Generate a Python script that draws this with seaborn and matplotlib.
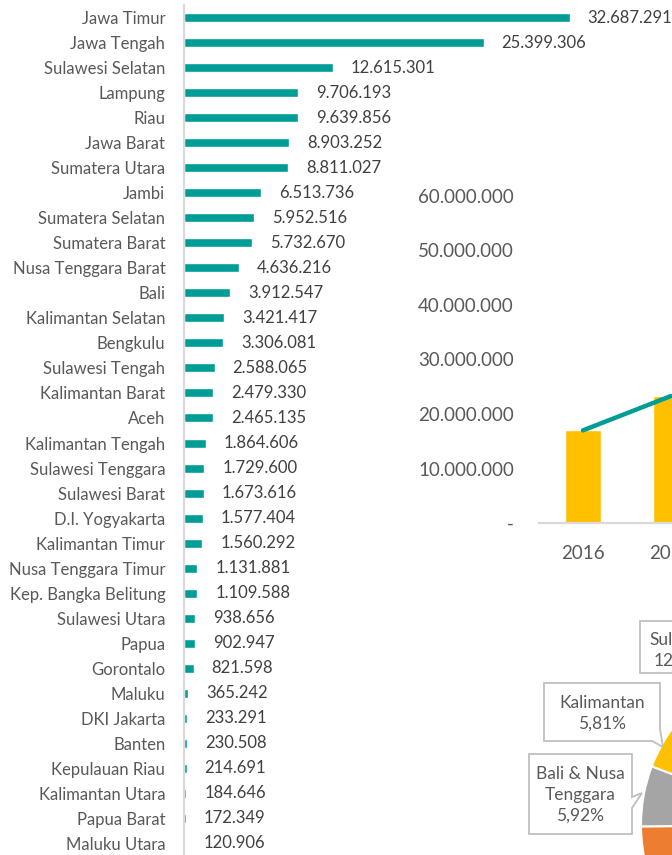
import numpy as np
import pandas as pd
import matplotlib
matplotlib.use("Agg")
import matplotlib.pyplot as plt
from matplotlib.patches import Polygon
from matplotlib.transforms import Affine2D
from matplotlib.ticker import FixedLocator, FuncFormatter
import seaborn as sns

# ---- data -------------------------------------------------------------
provinces = [
    "Jawa Timur", "Jawa Tengah", "Sulawesi Selatan", "Lampung", "Riau",
    "Jawa Barat", "Sumatera Utara", "Jambi", "Sumatera Selatan",
    "Sumatera Barat", "Nusa Tenggara Barat", "Bali", "Kalimantan Selatan",
    "Bengkulu", "Sulawesi Tengah", "Kalimantan Barat", "Aceh",
    "Kalimantan Tengah", "Sulawesi Tenggara", "Sulawesi Barat",
    "D.I. Yogyakarta", "Kalimantan Timur", "Nusa Tenggara Timur",
    "Kep. Bangka Belitung", "Sulawesi Utara", "Papua", "Gorontalo",
    "Maluku", "DKI Jakarta", "Banten", "Kepulauan Riau",
    "Kalimantan Utara", "Papua Barat", "Maluku Utara",
]
production = [
    32687291, 25399306, 12615301, 9706193, 9639856,
    8903252, 8811027, 6513736, 5952516,
    5732670, 4636216, 3912547, 3421417,
    3306081, 2588065, 2479330, 2465135,
    1864606, 1729600, 1673616,
    1577404, 1560292, 1131881,
    1109588, 938656, 902947, 821598,
    365242, 233291, 230508, 214691,
    184646, 172349, 120906,
]

years = ["2016", "2017"]
national_total = [17_000_000, 23_300_000]

regions = ["Jawa", "Sumatera", "Bali & Nusa\nTenggara", "Kalimantan",
           "Sulawesi", "Maluku & Papua"]
region_share = [42.19, 32.67, 5.92, 5.81, 12.45, 0.95]

# ---- style ------------------------------------------------------------
TEAL = "#009C96"
GOLD = "#FFC000"
AXIS_GREY = "#D9D9D9"
LABEL_GREY = "#595959"
VALUE_GREY = "#404040"
BOX_EDGE = "#BFBFBF"
PIE_COLORS = ["#4472C4", "#ED7D31", "#A5A5A5", "#FFC000", "#5B9BD5", "#70AD47"]

sns.set_theme(style="white")
plt.rcParams["font.family"] = ["Lato", "DejaVu Sans"]

W, H = 672, 855
fig = plt.figure(figsize=(W / 100, H / 100), dpi=100)
fig.patch.set_facecolor("white")


def box(x0, top, w, h):
    """Axes rectangle given in pixels measured from the top-left corner."""
    return [x0 / W, 1 - (top + h) / H, w / W, h / H]


def dots(v):
    return f"{int(round(v)):,}".replace(",", ".")


# pixel coordinates measured from the top-left corner
px = Affine2D().scale(1, -1).translate(0, H)

# ---- provincial production (horizontal bars) --------------------------
ax1 = fig.add_axes(box(184, 5, 488, 851))
ax1.patch.set_alpha(0)
df = pd.DataFrame({"provinsi": provinces, "produksi": production})
sns.barplot(data=df, x="produksi", y="provinsi", color=TEAL, width=0.36,
            saturation=1, ax=ax1)
ax1.set_xlim(0, 41_370_000)
ax1.bar_label(ax1.containers[0], labels=[dots(v) for v in production],
              padding=13, fontsize=12, color=VALUE_GREY)
ax1.set_xlabel("")
ax1.set_ylabel("")
ax1.set_xticks([])
ax1.tick_params(axis="y", length=0, pad=13.5, labelsize=12,
                labelcolor=LABEL_GREY)
for side in ["top", "right", "bottom"]:
    ax1.spines[side].set_visible(False)
ax1.spines["left"].set_color(AXIS_GREY)
ax1.spines["left"].set_linewidth(1.6)

# ---- national total per year (bars + line) ----------------------------
ax2 = fig.add_axes(box(539, 196, 176, 327))
ax2.patch.set_alpha(0)
sns.barplot(x=years, y=national_total, color=GOLD, width=0.4,
            saturation=1, ax=ax2)
ax2.plot(np.arange(len(years)), national_total, color=TEAL, lw=3.2,
         solid_capstyle="round")
ax2.set_xlim(-0.5, 1.5)
ax2.set_ylim(0, 60_000_000)
ax2.yaxis.set_major_locator(FixedLocator(np.arange(0, 60_000_001, 10_000_000)))
ax2.yaxis.set_major_formatter(
    FuncFormatter(lambda v, p: "-" if v == 0 else dots(v)))
ax2.tick_params(axis="y", length=0, pad=18, labelsize=13.5,
                labelcolor=LABEL_GREY)
ax2.tick_params(axis="x", length=0, pad=16, labelsize=13.5,
                labelcolor=LABEL_GREY)
for side in ["top", "right", "left"]:
    ax2.spines[side].set_visible(False)
ax2.spines["bottom"].set_color(AXIS_GREY)
ax2.spines["bottom"].set_linewidth(1.6)

# ---- regional share (pie) ---------------------------------------------
R = 165
ax3 = fig.add_axes(box(806 - R, 825 - R, 2 * R, 2 * R))
ax3.pie(region_share, colors=PIE_COLORS, startangle=90, counterclock=False,
        wedgeprops=dict(edgecolor="white", linewidth=1.5))
ax3.set_xlim(-1, 1)
ax3.set_ylim(-1, 1)

# callout boxes for the pie slices
callouts = [
    # (outline, text anchor, alignment, label)
    ([(640, 621), (720, 621), (720, 673), (640, 673)],
     (649, 650), "left", f"{regions[4]}\n{region_share[4]:.2f}%"),
    ([(544, 683), (660, 683), (660, 729), (663, 747), (652, 741), (544, 741)],
     (602, 713), "center", f"{regions[3]}\n{region_share[3]:.2f}%"),
    ([(529, 754), (632, 754), (632, 797), (642, 793), (632, 808),
      (632, 834), (529, 834)],
     (580, 795), "center", f"{regions[2]}\n{region_share[2]:.2f}%"),
]
for outline, (tx, ty), ha, label in callouts:
    fig.add_artist(Polygon(outline, closed=True, transform=px,
                           facecolor="white", edgecolor=BOX_EDGE, lw=1.3,
                           zorder=5))
    fig.text(tx, ty, label.replace(".", ","), transform=px, ha=ha,
             va="center", multialignment="center", fontsize=12.5,
             color=LABEL_GREY, linespacing=1.35, zorder=6)

fig.savefig("out.png", dpi=100)
